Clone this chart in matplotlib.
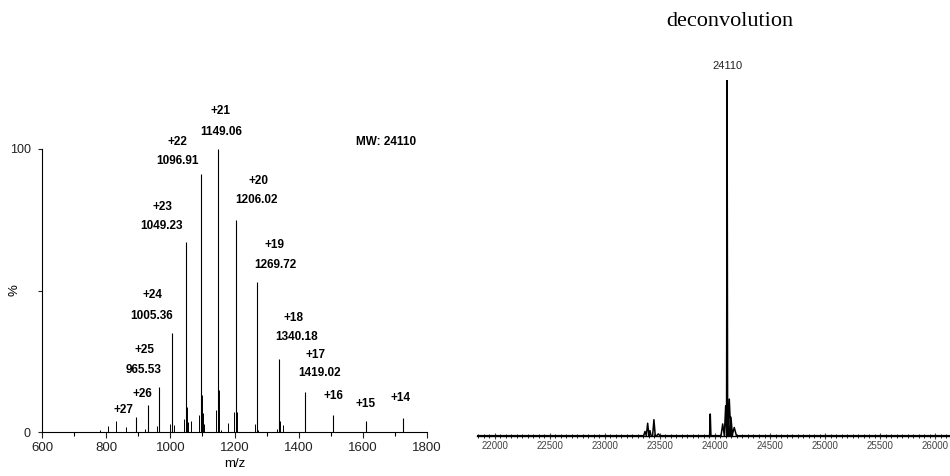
import numpy as np
import matplotlib
matplotlib.use('Agg')
import matplotlib.pyplot as plt
from matplotlib.ticker import MultipleLocator

# === DATOS: espectro ESI (m/z, %) ===
mz_main = [893.0, 929.5, 965.53, 1005.36, 1049.23, 1096.91, 1149.06, 1206.02,
           1269.72, 1340.18, 1419.02, 1507.8, 1610.5, 1724.0]
int_main = [5.4, 9.5, 16.0, 35.0, 67.0, 91.2, 100.0, 75.0,
            53.1, 25.9, 14.1, 6.1, 4.0, 4.9]

# picos menores
mz_minor = [780.8, 805.7, 831.7, 862.9, 922.0, 959.5, 1000.0, 1010.5, 1042.6,
            1052.0, 1056.0, 1063.5, 1090.3, 1099.8, 1103.0, 1106.0, 1143.4,
            1152.5, 1158.0, 1180.8, 1199.5, 1208.8, 1263.0, 1272.3, 1332.5,
            1343.0, 1351.0]
int_minor = [0.8, 2.1, 3.8, 1.9, 1.0, 2.0, 2.8, 2.5, 4.5,
             9.0, 3.4, 4.0, 6.0, 13.0, 6.7, 3.0, 7.9,
             15.0, 0.8, 3.2, 7.0, 7.0, 3.0, 0.8, 1.0,
             4.0, 2.6]

# etiquetas: carga, valor, posicion (x, y) de cada linea
cargas = ['+21', '+22', '+20', '+23', '+19', '+24', '+18', '+25', '+17']
valores = ['1149.06', '1096.91', '1206.02', '1049.23', '1269.72',
           '1005.36', '1340.18', '965.53', '1419.02']
carga_xy = [(1155, 113.3), (1021, 102.4), (1274, 88.8), (975, 79.4), (1324, 66.2),
            (945, 48.5), (1385, 40.2), (919, 29.1), (1453, 27.1)]
valor_xy = [(1159, 106.0), (1021, 95.9), (1270, 81.8), (973, 72.8), (1326, 59.0),
            (943, 41.1), (1392, 33.6), (918, 22.0), (1465, 20.8)]
cargas_solas = ['+26', '+27', '+16', '+15', '+14']
solas_xy = [(912, 13.5), (854, 7.9), (1508, 12.8), (1607, 9.9), (1716, 12.0)]

# === DATOS: deconvolucion (masa, altura, semiancho) ===
masa = [23364, 23388, 23409, 23445, 23485, 23957, 24070, 24097, 24110,
        24130, 24145, 24175]
altura = [1.2, 3.5, 1.4, 4.5, 0.5, 6.1, 3.3, 8.4, 100.0, 10.3, 5.2, 2.3]
semiancho = [12, 12, 10, 12, 15, 6, 15, 12, 5, 14, 14, 20]

fig = plt.figure(figsize=(9.5, 4.76), dpi=100)
plt.rcParams['font.family'] = ['Liberation Sans', 'DejaVu Sans']

# === PANEL IZQUIERDO ===
ax1 = fig.add_axes([0.0442, 0.0924, 0.4053, 0.5946])
ax1.vlines(mz_minor, 0, int_minor, color='black', lw=0.7)
ax1.vlines(mz_main, 0, int_main, color='black', lw=0.8)
ax1.set_xlim(600, 1800)
ax1.set_ylim(0, 100)
ax1.spines['top'].set_visible(False)
ax1.spines['right'].set_visible(False)
ax1.set_xticks([600, 800, 1000, 1200, 1400, 1600, 1800])
ax1.xaxis.set_minor_locator(MultipleLocator(100))
ax1.set_yticks([0, 50, 100])
ax1.set_yticklabels(['0', '', '100'])
ax1.tick_params(axis='x', length=4, width=0.8, labelsize=9.5, pad=3, colors='#222222')
ax1.tick_params(axis='x', which='minor', length=3, width=0.8)
ax1.tick_params(axis='y', length=3, width=0.8, labelsize=9, pad=5, colors='#222222')
ax1.set_xlabel('m/z', fontsize=9.5, labelpad=3)
ax1.set_ylabel('%', fontsize=9.5)
ax1.yaxis.set_label_coords(-0.057, 0.5)

for c, v, cxy, vxy in zip(cargas, valores, carga_xy, valor_xy):
    ax1.text(cxy[0], cxy[1], c, ha='center', va='center', fontsize=8.5,
             fontweight='bold', clip_on=False)
    ax1.text(vxy[0], vxy[1], v, ha='center', va='center', fontsize=8.5,
             fontweight='bold', clip_on=False)
for c, xy in zip(cargas_solas, solas_xy):
    ax1.text(xy[0], xy[1], c, ha='center', va='center', fontsize=8.5,
             fontweight='bold', clip_on=False)
ax1.text(1673, 102.4, 'MW: 24110', ha='center', va='center', fontsize=8.5,
         fontweight='bold', clip_on=False)

# === PANEL DERECHO ===
ax2 = fig.add_axes([0.502, 0.0847, 0.498, 0.747])
orden = np.argsort(masa)
px, py = [21836], [0]
for i in orden:
    px += [masa[i] - semiancho[i], masa[i], masa[i] + semiancho[i]]
    py += [0, altura[i], 0]
px.append(26136)
py.append(0)
ax2.plot(px, py, color='black', lw=1.1)
ax2.set_xlim(21836, 26136)
ax2.set_ylim(0, 100)
for s in ['top', 'right', 'left']:
    ax2.spines[s].set_visible(False)
ax2.spines['bottom'].set_linewidth(1.0)
ax2.set_yticks([])
ax2.xaxis.set_major_locator(MultipleLocator(500))
ax2.xaxis.set_minor_locator(MultipleLocator(50))
ax2.tick_params(axis='x', direction='inout', length=4, width=0.8, labelsize=7,
                pad=2, colors='#444444')
ax2.tick_params(axis='x', which='minor', direction='inout', length=2.5, width=0.6)
ax2.text(24110, 104, '24110', ha='center', va='center', fontsize=8,
         color='#222222', clip_on=False)

fig.text(730 / 950, 1 - 21.7 / 476, 'deconvolution', ha='center', va='center',
         fontsize=16, family='Liberation Serif')

fig.savefig('out.png', dpi=100)
